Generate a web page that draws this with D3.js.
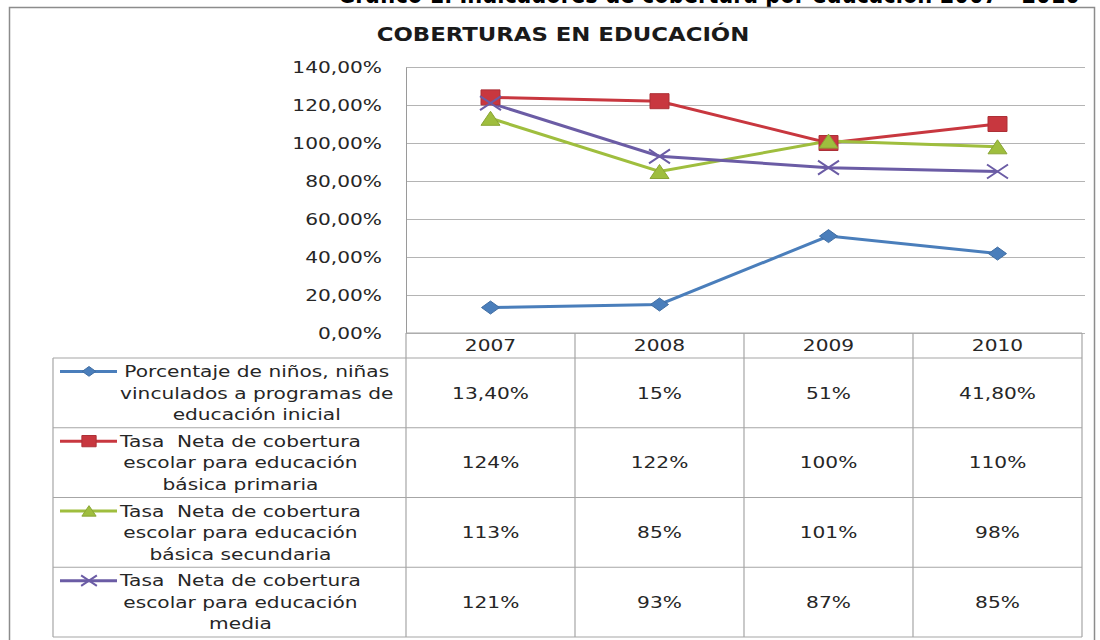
<!DOCTYPE html>
<html>
<head>
<meta charset="utf-8">
<script src="https://cdn.jsdelivr.net/npm/d3@7"></script>
<style>
  body { margin: 0; background: #fff; }
  svg { display: block; }
  text { font-family: "DejaVu Sans", sans-serif; fill: #262626; }
</style>
</head>
<body>
<svg width="1100" height="640"></svg>
<script>

var years = ["2007", "2008", "2009", "2010"];

var inicial = [13.4, 15, 51, 41.8];
var primaria = [124, 122, 100, 110];
var secundaria = [113, 85, 101, 98];
var media = [121, 93, 87, 85];

var inicialTxt = ["13,40%", "15%", "51%", "41,80%"];
var primariaTxt = ["124%", "122%", "100%", "110%"];
var secundariaTxt = ["113%", "85%", "101%", "98%"];
var mediaTxt = ["121%", "93%", "87%", "85%"];

var yTicks = [0, 20, 40, 60, 80, 100, 120, 140];

var seriesNames = [
  ["Porcentaje de niños, niñas", "vinculados a programas de", "educación inicial"],
  ["Tasa  Neta de cobertura", "escolar para educación", "básica primaria"],
  ["Tasa  Neta de cobertura", "escolar para educación", "básica secundaria"],
  ["Tasa  Neta de cobertura", "escolar para educación", "media"]
];

var series = [
  {values: inicial, labels: inicialTxt, color: "#4a7ebb", marker: "diamond", names: seriesNames[0]},
  {values: primaria, labels: primariaTxt, color: "#c8373f", marker: "square", names: seriesNames[1]},
  {values: secundaria, labels: secundariaTxt, color: "#9fbe3e", marker: "triangle", names: seriesNames[2]},
  {values: media, labels: mediaTxt, color: "#6b5ca5", marker: "x", names: seriesNames[3]}
];

// text in the picture is stretched sideways
var SX = 1.26;

var svg = d3.select("svg");

var plotL = 406, plotR = 1082, plotT = 67, plotB = 333;
var tableL = 53, headB = 358, rowH = 69.75;

var x = d3.scaleBand().domain(years).range([plotL, plotR]);
var y = d3.scaleLinear().domain([0, 140]).range([plotB, plotT]);

// heading of the page, cut off at the top edge like in the scan
svg.append("text")
  .attr("x", 338)
  .attr("y", 3)
  .attr("textLength", 742)
  .attr("lengthAdjust", "spacingAndGlyphs")
  .style("font-weight", "bold")
  .style("font-size", "26px")
  .style("fill", "#000")
  .text("Gráfico 1. Indicadores de cobertura por educación 2007 - 2010");

// chart frame
svg.append("rect")
  .attr("x", 9.5).attr("y", 7.5)
  .attr("width", 1085).attr("height", 650)
  .attr("fill", "#fff")
  .attr("stroke", "#8c8c8c")
  .attr("stroke-width", 1.5);

svg.append("text")
  .attr("transform", "translate(563,41) scale(1.2,1)")
  .attr("text-anchor", "middle")
  .style("font-weight", "bold")
  .style("font-size", "19px")
  .style("fill", "#1a1a1a")
  .text("COBERTURAS EN EDUCACIÓN");

// gridlines
svg.append("g")
  .attr("transform", "translate(" + plotL + ",0)")
  .call(d3.axisLeft(y).tickValues(yTicks).tickSize(-(plotR + 3 - plotL)).tickFormat(""))
  .call(function(g) { g.select(".domain").remove(); })
  .selectAll("line")
  .attr("stroke", "#b4b4b4");

// y axis labels
var yAxis = svg.append("g")
  .attr("transform", "translate(" + plotL + ",0)")
  .call(d3.axisLeft(y).tickValues(yTicks).tickSize(0).tickFormat(function(d) {
    return d3.format(".2f")(d).replace(".", ",") + "%";
  }));
yAxis.select(".domain").attr("stroke", "#9a9a9a");
yAxis.selectAll("text")
  .attr("x", 0)
  .attr("dy", "0.35em")
  .attr("transform", "translate(-24,0) scale(" + SX + ",1)")
  .style("font-size", "16px")
  .style("font-family", "DejaVu Sans, sans-serif")
  .style("fill", "#262626");

// lines
var line = d3.line()
  .x(function(d, i) { return x(years[i]) + x.bandwidth() / 2; })
  .y(function(d) { return y(d); });

function markerPath(type, w, h) {
  var a = w / 2, b = h / 2;
  if (type == "diamond") return "M0," + (-b) + "L" + a + ",0L0," + b + "L" + (-a) + ",0Z";
  if (type == "square") return "M" + (-a) + "," + (-b) + "H" + a + "V" + b + "H" + (-a) + "Z";
  if (type == "triangle") return "M0," + (-b) + "L" + a + "," + b + "H" + (-a) + "Z";
  return "M" + (-a) + "," + (-b) + "L" + a + "," + b + "M" + a + "," + (-b) + "L" + (-a) + "," + b;
}

function drawMarker(g, s, cx, cy, k) {
  var sizes = {diamond: [18, 13], square: [19, 15], triangle: [19, 14], x: [21, 14]};
  var sz = sizes[s.marker];
  var p = g.append("path")
    .attr("transform", "translate(" + cx + "," + cy + ")")
    .attr("d", markerPath(s.marker, sz[0] * k, sz[1] * k));
  if (s.marker == "x") {
    p.attr("fill", "none").attr("stroke", s.color).attr("stroke-width", 2);
  } else {
    p.attr("fill", s.color).attr("stroke", d3.color(s.color).darker(0.4)).attr("stroke-width", 1);
  }
}

var plot = svg.append("g");
series.forEach(function(s) {
  plot.append("path")
    .datum(s.values)
    .attr("fill", "none")
    .attr("stroke", s.color)
    .attr("stroke-width", 3)
    .attr("d", line);
});
series.forEach(function(s) {
  s.values.forEach(function(v, i) {
    drawMarker(plot, s, x(years[i]) + x.bandwidth() / 2, y(v), 1);
  });
});

// data table
var grid = svg.append("g").attr("stroke", "#a6a6a6").attr("stroke-width", 1.2);
var tableB = headB + rowH * series.length;
grid.append("line").attr("x1", plotL).attr("x2", plotR).attr("y1", plotB).attr("y2", plotB);
for (var r = 0; r <= series.length; r++) {
  grid.append("line")
    .attr("x1", tableL).attr("x2", plotR)
    .attr("y1", headB + r * rowH).attr("y2", headB + r * rowH);
}
grid.append("line").attr("x1", tableL).attr("x2", tableL).attr("y1", headB).attr("y2", tableB);
years.forEach(function(yr) {
  grid.append("line").attr("x1", x(yr)).attr("x2", x(yr)).attr("y1", plotB).attr("y2", tableB);
});
grid.append("line").attr("x1", plotR).attr("x2", plotR).attr("y1", plotB).attr("y2", tableB);

years.forEach(function(yr) {
  svg.append("text")
    .attr("transform", "translate(" + (x(yr) + x.bandwidth() / 2) + "," + ((plotB + headB) / 2) + ") scale(" + SX + ",1)")
    .attr("text-anchor", "middle")
    .attr("dy", "0.36em")
    .style("font-size", "16px")
    .text(yr);
});

series.forEach(function(s, r) {
  var cy = headB + r * rowH + rowH / 2;
  s.labels.forEach(function(t, i) {
    svg.append("text")
      .attr("transform", "translate(" + (x(years[i]) + x.bandwidth() / 2) + "," + cy + ") scale(" + SX + ",1)")
      .attr("text-anchor", "middle")
      .attr("dy", "0.36em")
      .style("font-size", "16px")
      .text(t);
  });

  // legend key
  var lineGap = 21.5;
  var firstY = cy - lineGap;
  var key = svg.append("g");
  key.append("line")
    .attr("x1", 60).attr("x2", 117)
    .attr("y1", firstY).attr("y2", firstY)
    .attr("stroke", s.color).attr("stroke-width", 3);
  drawMarker(key, s, 89, firstY, 0.75);

  var txt = svg.append("text")
    .attr("text-anchor", "middle")
    .style("font-size", "16px")
    .style("white-space", "pre");
  var spans = txt.selectAll("tspan")
    .data(s.names)
    .enter().append("tspan")
    .attr("x", 0)
    .attr("y", function(d, i) { return i * lineGap; })
    .attr("dy", "0.36em")
    .text(function(d) { return d; });
  var maxW = 0;
  spans.each(function() { maxW = Math.max(maxW, this.getComputedTextLength()); });
  txt.attr("transform", "translate(" + (120 + maxW * SX / 2) + "," + firstY + ") scale(" + SX + ",1)");
});

</script>
</body>
</html>
